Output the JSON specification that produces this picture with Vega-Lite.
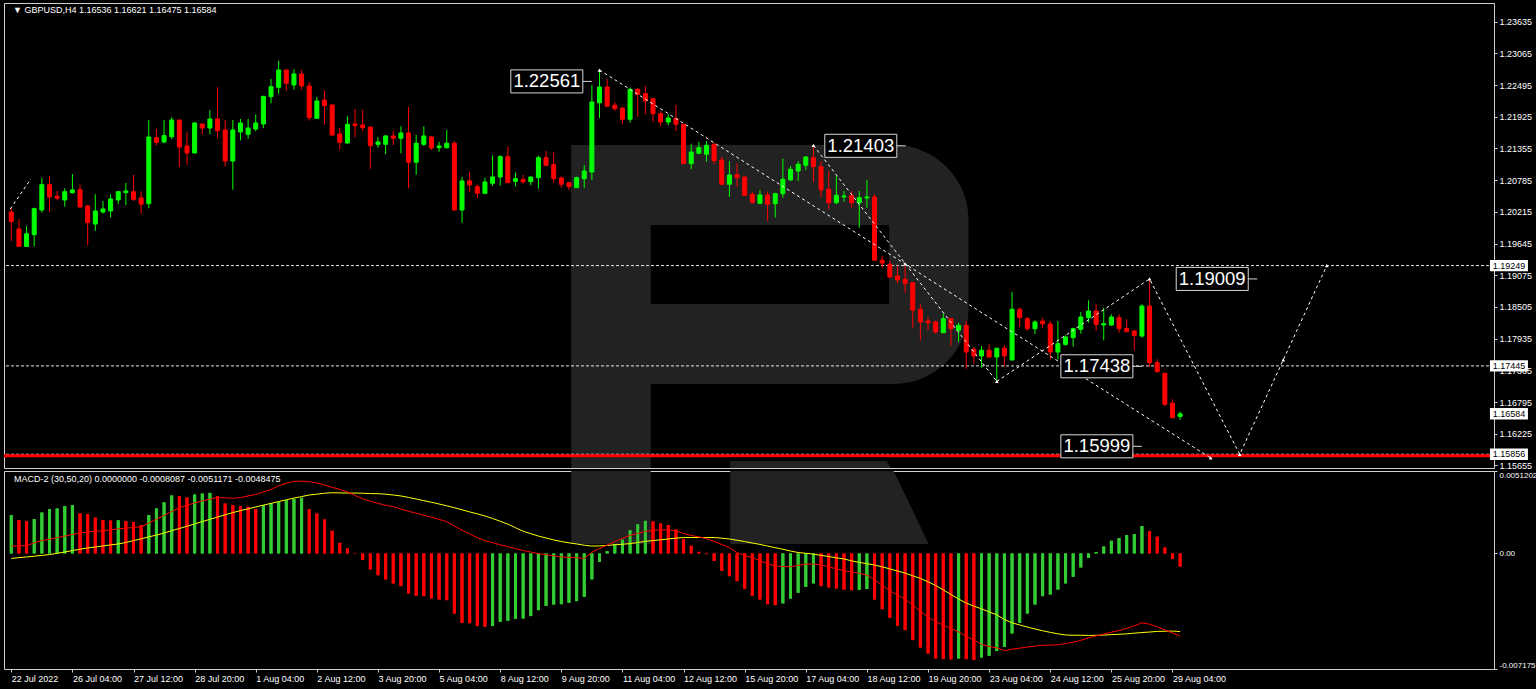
{
"$schema":"https://vega.github.io/schema/vega-lite/v6.json",
"background":"#000000",
"padding":{"left":2,"top":2,"right":6,"bottom":8},
"autosize":{"type":"pad"},
"spacing":3,
"bounds":"flush",
"config":{"view":{"stroke":"#d0d0d0","strokeWidth":1},"axis":{"labelFont":"Liberation Sans","labelFontSize":9,"labelColor":"#ffffff","tickColor":"#d0d0d0","domain":false,"grid":false,"labelOverlap":false,"labelBound":false}},
"datasets":{
"bars":[
{"i":0,"o":1.20213,"h":1.20285,"l":1.19692,"c":1.20039,"hg":0.00238,"up":1,"m":0.00046,"s":-0.00031},
{"i":1,"o":1.19908,"h":1.20082,"l":1.19585,"c":1.19593,"hg":0.00207,"up":0,"m":0.00047,"s":-0.00026},
{"i":2,"o":1.19593,"h":1.19961,"l":1.19585,"c":1.19821,"hg":0.00201,"up":0,"m":0.00049,"s":-0.00022},
{"i":3,"o":1.19805,"h":1.20291,"l":1.19593,"c":1.20273,"hg":0.00213,"up":1,"m":0.00066,"s":-0.00017},
{"i":4,"o":1.20249,"h":1.20825,"l":1.20201,"c":1.20704,"hg":0.00254,"up":1,"m":0.0008,"s":-0.00012},
{"i":5,"o":1.20704,"h":1.2086,"l":1.20219,"c":1.20483,"hg":0.00276,"up":1,"m":0.00088,"s":-0.00007},
{"i":6,"o":1.20496,"h":1.20591,"l":1.20429,"c":1.2046,"hg":0.00279,"up":1,"m":0.00098,"s":0.00001},
{"i":7,"o":1.20429,"h":1.20639,"l":1.20309,"c":1.20578,"hg":0.00294,"up":1,"m":0.00108,"s":0.00009},
{"i":8,"o":1.2056,"h":1.20896,"l":1.20542,"c":1.20609,"hg":0.003,"up":1,"m":0.00118,"s":0.00018},
{"i":9,"o":1.20614,"h":1.20704,"l":1.20291,"c":1.20303,"hg":0.00249,"up":0,"m":0.00127,"s":0.00026},
{"i":10,"o":1.20321,"h":1.20339,"l":1.19618,"c":1.20021,"hg":0.00244,"up":0,"m":0.00134,"s":0.00034},
{"i":11,"o":1.19997,"h":1.20531,"l":1.19872,"c":1.20231,"hg":0.00223,"up":0,"m":0.00138,"s":0.0004},
{"i":12,"o":1.20213,"h":1.20411,"l":1.20183,"c":1.20267,"hg":0.00207,"up":0,"m":0.00141,"s":0.00047},
{"i":13,"o":1.20231,"h":1.20531,"l":1.20114,"c":1.20447,"hg":0.00204,"up":0,"m":0.00147,"s":0.00053},
{"i":14,"o":1.20429,"h":1.20591,"l":1.20352,"c":1.20578,"hg":0.00206,"up":1,"m":0.00153,"s":0.00059},
{"i":15,"o":1.2056,"h":1.20735,"l":1.20339,"c":1.20591,"hg":0.00201,"up":0,"m":0.00157,"s":0.00068},
{"i":16,"o":1.20578,"h":1.20878,"l":1.20411,"c":1.20441,"hg":0.00196,"up":0,"m":0.00161,"s":0.0008},
{"i":17,"o":1.20465,"h":1.20585,"l":1.20183,"c":1.20352,"hg":0.00176,"up":0,"m":0.00166,"s":0.00091},
{"i":18,"o":1.20362,"h":1.21867,"l":1.20279,"c":1.21561,"hg":0.00238,"up":1,"m":0.00189,"s":0.00103},
{"i":19,"o":1.21549,"h":1.21706,"l":1.21412,"c":1.21466,"hg":0.00279,"up":1,"m":0.00212,"s":0.00114},
{"i":20,"o":1.21472,"h":1.21867,"l":1.21449,"c":1.21585,"hg":0.00317,"up":1,"m":0.00236,"s":0.00127},
{"i":21,"o":1.21567,"h":1.21916,"l":1.2152,"c":1.21867,"hg":0.0036,"up":1,"m":0.0026,"s":0.00141},
{"i":22,"o":1.21867,"h":1.2187,"l":1.21022,"c":1.21382,"hg":0.00357,"up":0,"m":0.00284,"s":0.00155},
{"i":23,"o":1.214,"h":1.21652,"l":1.21063,"c":1.21274,"hg":0.00347,"up":0,"m":0.00299,"s":0.00169},
{"i":24,"o":1.21274,"h":1.21831,"l":1.21265,"c":1.21813,"hg":0.00366,"up":1,"m":0.00314,"s":0.00183},
{"i":25,"o":1.21795,"h":1.218,"l":1.2161,"c":1.21723,"hg":0.00372,"up":1,"m":0.00326,"s":0.00198},
{"i":26,"o":1.21723,"h":1.22042,"l":1.2161,"c":1.21885,"hg":0.00376,"up":1,"m":0.00337,"s":0.00212},
{"i":27,"o":1.21885,"h":1.22455,"l":1.21538,"c":1.21675,"hg":0.00357,"up":0,"m":0.00348,"s":0.00226},
{"i":28,"o":1.21688,"h":1.21867,"l":1.21035,"c":1.2113,"hg":0.0031,"up":0,"m":0.00345,"s":0.0024},
{"i":29,"o":1.2113,"h":1.21867,"l":1.20614,"c":1.21688,"hg":0.003,"up":0,"m":0.00343,"s":0.00254},
{"i":30,"o":1.21652,"h":1.21885,"l":1.21502,"c":1.21813,"hg":0.00294,"up":0,"m":0.00347,"s":0.00266},
{"i":31,"o":1.2161,"h":1.21885,"l":1.21526,"c":1.21723,"hg":0.0029,"up":0,"m":0.00357,"s":0.00277},
{"i":32,"o":1.21706,"h":1.21969,"l":1.21664,"c":1.21813,"hg":0.00276,"up":0,"m":0.00366,"s":0.00289},
{"i":33,"o":1.21795,"h":1.223,"l":1.21723,"c":1.22293,"hg":0.003,"up":1,"m":0.00382,"s":0.003},
{"i":34,"o":1.22286,"h":1.22605,"l":1.22168,"c":1.22466,"hg":0.0031,"up":1,"m":0.00398,"s":0.00311},
{"i":35,"o":1.22455,"h":1.22933,"l":1.22335,"c":1.22766,"hg":0.00321,"up":1,"m":0.0042,"s":0.00322},
{"i":36,"o":1.22766,"h":1.2277,"l":1.22394,"c":1.22527,"hg":0.00331,"up":1,"m":0.00435,"s":0.00333},
{"i":37,"o":1.22497,"h":1.22779,"l":1.22412,"c":1.22695,"hg":0.00339,"up":1,"m":0.00448,"s":0.00344},
{"i":38,"o":1.22695,"h":1.22766,"l":1.22412,"c":1.22479,"hg":0.00346,"up":1,"m":0.00449,"s":0.00353},
{"i":39,"o":1.22479,"h":1.22551,"l":1.21855,"c":1.21909,"hg":0.00275,"up":0,"m":0.00446,"s":0.00363},
{"i":40,"o":1.21898,"h":1.22281,"l":1.2189,"c":1.22209,"hg":0.00248,"up":0,"m":0.00438,"s":0.00368},
{"i":41,"o":1.22227,"h":1.22401,"l":1.21783,"c":1.22124,"hg":0.00211,"up":0,"m":0.00425,"s":0.00374},
{"i":42,"o":1.22137,"h":1.2214,"l":1.2158,"c":1.21598,"hg":0.00141,"up":0,"m":0.0041,"s":0.00377},
{"i":43,"o":1.21616,"h":1.21723,"l":1.21333,"c":1.21466,"hg":0.00066,"up":0,"m":0.00398,"s":0.00376},
{"i":44,"o":1.21454,"h":1.21934,"l":1.21441,"c":1.2179,"hg":0.00031,"up":0,"m":0.00382,"s":0.00375},
{"i":45,"o":1.21795,"h":1.22065,"l":1.21558,"c":1.21765,"hg":-0.00002,"up":0,"m":0.0036,"s":0.00375},
{"i":46,"o":1.21777,"h":1.22053,"l":1.21664,"c":1.21729,"hg":-0.00041,"up":0,"m":0.00339,"s":0.00374},
{"i":47,"o":1.21741,"h":1.21745,"l":1.20991,"c":1.21405,"hg":-0.00099,"up":0,"m":0.00324,"s":0.00372},
{"i":48,"o":1.2143,"h":1.21562,"l":1.21369,"c":1.21472,"hg":-0.00135,"up":0,"m":0.00311,"s":0.00371},
{"i":49,"o":1.2143,"h":1.21598,"l":1.21251,"c":1.2158,"hg":-0.00161,"up":0,"m":0.00299,"s":0.00368},
{"i":50,"o":1.2158,"h":1.2167,"l":1.21418,"c":1.21538,"hg":-0.00186,"up":0,"m":0.00291,"s":0.00363},
{"i":51,"o":1.21538,"h":1.21754,"l":1.21269,"c":1.21634,"hg":-0.00203,"up":0,"m":0.00276,"s":0.00357},
{"i":52,"o":1.21634,"h":1.22101,"l":1.20639,"c":1.21106,"hg":-0.00248,"up":0,"m":0.00262,"s":0.00348},
{"i":53,"o":1.21107,"h":1.21598,"l":1.20884,"c":1.21449,"hg":-0.00263,"up":0,"m":0.0025,"s":0.00338},
{"i":54,"o":1.2143,"h":1.21754,"l":1.214,"c":1.2158,"hg":-0.00265,"up":0,"m":0.00237,"s":0.00328},
{"i":55,"o":1.21562,"h":1.2158,"l":1.21328,"c":1.21364,"hg":-0.00279,"up":0,"m":0.00225,"s":0.00318},
{"i":56,"o":1.2137,"h":1.21477,"l":1.21297,"c":1.214,"hg":-0.00286,"up":0,"m":0.00212,"s":0.00307},
{"i":57,"o":1.2137,"h":1.21688,"l":1.21351,"c":1.21449,"hg":-0.0029,"up":0,"m":0.00197,"s":0.00296},
{"i":58,"o":1.21449,"h":1.2149,"l":1.2024,"c":1.20249,"hg":-0.00373,"up":0,"m":0.0017,"s":0.00284},
{"i":59,"o":1.20249,"h":1.20843,"l":1.20021,"c":1.20771,"hg":-0.00431,"up":0,"m":0.00144,"s":0.00271},
{"i":60,"o":1.20771,"h":1.20932,"l":1.20573,"c":1.20699,"hg":-0.00433,"up":0,"m":0.00121,"s":0.00258},
{"i":61,"o":1.20668,"h":1.20711,"l":1.20459,"c":1.20549,"hg":-0.00451,"up":0,"m":0.00098,"s":0.00246},
{"i":62,"o":1.20549,"h":1.2083,"l":1.20531,"c":1.20753,"hg":-0.00455,"up":0,"m":0.00079,"s":0.00233},
{"i":63,"o":1.20729,"h":1.21233,"l":1.20681,"c":1.20842,"hg":-0.00451,"up":1,"m":0.00067,"s":0.00217},
{"i":64,"o":1.20842,"h":1.21233,"l":1.20686,"c":1.21208,"hg":-0.00424,"up":1,"m":0.00054,"s":0.002},
{"i":65,"o":1.21208,"h":1.21387,"l":1.20735,"c":1.2074,"hg":-0.00418,"up":1,"m":0.00042,"s":0.00182},
{"i":66,"o":1.20765,"h":1.2092,"l":1.20668,"c":1.20812,"hg":-0.00406,"up":1,"m":0.0003,"s":0.0016},
{"i":67,"o":1.20794,"h":1.20878,"l":1.20722,"c":1.20758,"hg":-0.00404,"up":1,"m":0.00018,"s":0.00138},
{"i":68,"o":1.20758,"h":1.20848,"l":1.20693,"c":1.20842,"hg":-0.00389,"up":1,"m":0.00009,"s":0.00123},
{"i":69,"o":1.2083,"h":1.21225,"l":1.20632,"c":1.2119,"hg":-0.00352,"up":1,"m":-0.00001,"s":0.00108},
{"i":70,"o":1.2119,"h":1.2131,"l":1.2104,"c":1.21053,"hg":-0.00325,"up":1,"m":-0.00008,"s":0.00096},
{"i":71,"o":1.21064,"h":1.21287,"l":1.2074,"c":1.20812,"hg":-0.00317,"up":1,"m":-0.00015,"s":0.00084},
{"i":72,"o":1.20825,"h":1.20855,"l":1.2065,"c":1.20711,"hg":-0.00315,"up":1,"m":-0.00022,"s":0.00074},
{"i":73,"o":1.2074,"h":1.20745,"l":1.20609,"c":1.20668,"hg":-0.00306,"up":1,"m":-0.00024,"s":0.00066},
{"i":74,"o":1.2065,"h":1.20848,"l":1.20645,"c":1.2083,"hg":-0.00296,"up":1,"m":-0.00027,"s":0.00059},
{"i":75,"o":1.20812,"h":1.21058,"l":1.2065,"c":1.2095,"hg":-0.00269,"up":1,"m":-0.00031,"s":0.00051},
{"i":76,"o":1.20932,"h":1.22497,"l":1.20789,"c":1.22191,"hg":-0.00161,"up":1,"m":0.00007,"s":0.00046},
{"i":77,"o":1.22178,"h":1.22766,"l":1.21898,"c":1.22461,"hg":-0.00052,"up":1,"m":0.00031,"s":0.00047},
{"i":78,"o":1.22461,"h":1.22599,"l":1.2211,"c":1.22114,"hg":0.00014,"up":1,"m":0.00052,"s":0.0005},
{"i":79,"o":1.22132,"h":1.22191,"l":1.22029,"c":1.22071,"hg":0.00058,"up":1,"m":0.00074,"s":0.00054},
{"i":80,"o":1.22083,"h":1.22087,"l":1.21795,"c":1.2188,"hg":0.00087,"up":1,"m":0.00094,"s":0.00057},
{"i":81,"o":1.2188,"h":1.22448,"l":1.21819,"c":1.22419,"hg":0.00145,"up":1,"m":0.00112,"s":0.00061},
{"i":82,"o":1.22419,"h":1.22448,"l":1.21921,"c":1.22329,"hg":0.00182,"up":1,"m":0.00124,"s":0.00068},
{"i":83,"o":1.2234,"h":1.22479,"l":1.2197,"c":1.22209,"hg":0.00203,"up":1,"m":0.00137,"s":0.00075},
{"i":84,"o":1.2225,"h":1.22255,"l":1.21837,"c":1.21981,"hg":0.00199,"up":0,"m":0.00143,"s":0.0008},
{"i":85,"o":1.21981,"h":1.22029,"l":1.21759,"c":1.21831,"hg":0.00186,"up":0,"m":0.00147,"s":0.00085},
{"i":86,"o":1.21831,"h":1.2197,"l":1.21772,"c":1.21903,"hg":0.00176,"up":0,"m":0.00146,"s":0.0009},
{"i":87,"o":1.21893,"h":1.22137,"l":1.2167,"c":1.2179,"hg":0.00149,"up":0,"m":0.00141,"s":0.00095},
{"i":88,"o":1.2179,"h":1.21795,"l":1.2107,"c":1.21082,"hg":0.00089,"up":0,"m":0.00124,"s":0.00099},
{"i":89,"o":1.21082,"h":1.21441,"l":1.20981,"c":1.21292,"hg":0.00048,"up":0,"m":0.00112,"s":0.00099},
{"i":90,"o":1.21269,"h":1.21472,"l":1.21251,"c":1.21369,"hg":0.0001,"up":0,"m":0.00103,"s":0.00099},
{"i":91,"o":1.21251,"h":1.2149,"l":1.21118,"c":1.21412,"hg":-0.00004,"up":0,"m":0.00092,"s":0.00099},
{"i":92,"o":1.2143,"h":1.21459,"l":1.21071,"c":1.21136,"hg":-0.00046,"up":0,"m":0.00075,"s":0.00099},
{"i":93,"o":1.21148,"h":1.21208,"l":1.20693,"c":1.20711,"hg":-0.00108,"up":0,"m":0.00056,"s":0.00095},
{"i":94,"o":1.20711,"h":1.2113,"l":1.20483,"c":1.20878,"hg":-0.00141,"up":0,"m":0.00036,"s":0.0009},
{"i":95,"o":1.20884,"h":1.21089,"l":1.20668,"c":1.2083,"hg":-0.00172,"up":0,"m":0.00006,"s":0.00082},
{"i":96,"o":1.20842,"h":1.20848,"l":1.20501,"c":1.20513,"hg":-0.00219,"up":0,"m":-0.00013,"s":0.00074},
{"i":97,"o":1.20531,"h":1.20573,"l":1.20369,"c":1.2038,"hg":-0.00263,"up":0,"m":-0.00025,"s":0.00065},
{"i":98,"o":1.20369,"h":1.20603,"l":1.20352,"c":1.20519,"hg":-0.00286,"up":0,"m":-0.00045,"s":0.00056},
{"i":99,"o":1.20519,"h":1.20578,"l":1.20051,"c":1.20352,"hg":-0.00315,"up":0,"m":-0.00064,"s":0.00046},
{"i":100,"o":1.20362,"h":1.2056,"l":1.20114,"c":1.20542,"hg":-0.00321,"up":0,"m":-0.00078,"s":0.00036},
{"i":101,"o":1.20542,"h":1.21172,"l":1.20471,"c":1.20801,"hg":-0.0031,"up":1,"m":-0.00081,"s":0.00026},
{"i":102,"o":1.20789,"h":1.2104,"l":1.20771,"c":1.20981,"hg":-0.0028,"up":1,"m":-0.00083,"s":0.00015},
{"i":103,"o":1.2095,"h":1.2113,"l":1.20771,"c":1.21071,"hg":-0.00244,"up":1,"m":-0.00074,"s":0.00006},
{"i":104,"o":1.21053,"h":1.2122,"l":1.20968,"c":1.21202,"hg":-0.00207,"up":1,"m":-0.00066,"s":0.00001},
{"i":105,"o":1.2119,"h":1.2141,"l":1.20753,"c":1.21028,"hg":-0.00186,"up":1,"m":-0.00066,"s":-0.00004},
{"i":106,"o":1.21028,"h":1.2113,"l":1.20471,"c":1.20609,"hg":-0.00203,"up":0,"m":-0.00071,"s":-0.00012},
{"i":107,"o":1.20621,"h":1.2095,"l":1.20261,"c":1.2038,"hg":-0.00211,"up":0,"m":-0.00083,"s":-0.00019},
{"i":108,"o":1.2038,"h":1.2086,"l":1.20352,"c":1.20513,"hg":-0.00217,"up":0,"m":-0.00095,"s":-0.00027},
{"i":109,"o":1.20483,"h":1.20591,"l":1.20398,"c":1.20501,"hg":-0.00224,"up":0,"m":-0.00107,"s":-0.00034},
{"i":110,"o":1.20513,"h":1.20591,"l":1.20291,"c":1.2038,"hg":-0.00228,"up":0,"m":-0.00115,"s":-0.00046},
{"i":111,"o":1.2038,"h":1.20591,"l":1.19931,"c":1.20471,"hg":-0.00226,"up":1,"m":-0.00123,"s":-0.00056},
{"i":112,"o":1.20465,"h":1.20789,"l":1.20291,"c":1.20483,"hg":-0.00221,"up":1,"m":-0.00134,"s":-0.00063},
{"i":113,"o":1.20483,"h":1.20531,"l":1.1934,"c":1.19345,"hg":-0.00286,"up":0,"m":-0.00164,"s":-0.00072},
{"i":114,"o":1.19344,"h":1.19421,"l":1.19211,"c":1.19295,"hg":-0.00346,"up":0,"m":-0.00197,"s":-0.00083},
{"i":115,"o":1.19272,"h":1.19344,"l":1.19031,"c":1.19043,"hg":-0.00399,"up":0,"m":-0.00232,"s":-0.00096},
{"i":116,"o":1.19061,"h":1.19254,"l":1.18923,"c":1.1899,"hg":-0.00449,"up":0,"m":-0.00258,"s":-0.00109},
{"i":117,"o":1.19002,"h":1.19259,"l":1.18761,"c":1.1893,"hg":-0.00476,"up":0,"m":-0.00284,"s":-0.00122},
{"i":118,"o":1.18941,"h":1.18945,"l":1.18132,"c":1.1845,"hg":-0.00538,"up":0,"m":-0.0032,"s":-0.00139},
{"i":119,"o":1.18463,"h":1.18553,"l":1.17905,"c":1.18234,"hg":-0.00584,"up":0,"m":-0.00359,"s":-0.00155},
{"i":120,"o":1.18252,"h":1.18324,"l":1.18085,"c":1.18222,"hg":-0.00621,"up":0,"m":-0.00396,"s":-0.00176},
{"i":121,"o":1.18234,"h":1.18265,"l":1.18024,"c":1.18055,"hg":-0.00652,"up":0,"m":-0.00423,"s":-0.00199},
{"i":122,"o":1.18042,"h":1.18384,"l":1.18035,"c":1.18294,"hg":-0.00656,"up":0,"m":-0.00445,"s":-0.00226},
{"i":123,"o":1.18294,"h":1.18312,"l":1.17803,"c":1.18114,"hg":-0.00658,"up":0,"m":-0.00466,"s":-0.00255},
{"i":124,"o":1.18085,"h":1.18222,"l":1.17875,"c":1.18175,"hg":-0.00652,"up":1,"m":-0.00486,"s":-0.00283},
{"i":125,"o":1.18175,"h":1.18252,"l":1.17395,"c":1.17695,"hg":-0.00656,"up":0,"m":-0.00516,"s":-0.00308},
{"i":126,"o":1.17743,"h":1.17785,"l":1.17485,"c":1.17623,"hg":-0.00662,"up":0,"m":-0.00538,"s":-0.00327},
{"i":127,"o":1.17623,"h":1.17803,"l":1.17413,"c":1.17726,"hg":-0.00646,"up":1,"m":-0.00564,"s":-0.00344},
{"i":128,"o":1.17726,"h":1.17833,"l":1.17593,"c":1.17605,"hg":-0.00635,"up":1,"m":-0.00578,"s":-0.00363},
{"i":129,"o":1.17605,"h":1.17772,"l":1.17165,"c":1.17762,"hg":-0.00606,"up":1,"m":-0.00586,"s":-0.00381},
{"i":130,"o":1.17762,"h":1.17815,"l":1.17443,"c":1.17623,"hg":-0.0058,"up":1,"m":-0.00604,"s":-0.0041},
{"i":131,"o":1.17551,"h":1.18774,"l":1.17545,"c":1.18463,"hg":-0.00497,"up":1,"m":-0.00594,"s":-0.00431},
{"i":132,"o":1.18463,"h":1.18492,"l":1.18145,"c":1.18312,"hg":-0.00431,"up":1,"m":-0.00588,"s":-0.00444},
{"i":133,"o":1.18294,"h":1.18324,"l":1.18078,"c":1.18114,"hg":-0.00373,"up":1,"m":-0.00581,"s":-0.00457},
{"i":134,"o":1.18114,"h":1.18265,"l":1.18018,"c":1.18234,"hg":-0.00317,"up":1,"m":-0.00575,"s":-0.00469},
{"i":135,"o":1.18252,"h":1.18312,"l":1.18132,"c":1.18204,"hg":-0.00265,"up":1,"m":-0.0057,"s":-0.0048},
{"i":136,"o":1.18198,"h":1.18252,"l":1.17564,"c":1.17695,"hg":-0.00255,"up":1,"m":-0.00569,"s":-0.0049},
{"i":137,"o":1.17695,"h":1.18252,"l":1.17564,"c":1.17844,"hg":-0.00224,"up":1,"m":-0.00567,"s":-0.00499},
{"i":138,"o":1.17833,"h":1.17995,"l":1.17803,"c":1.17965,"hg":-0.00186,"up":1,"m":-0.0056,"s":-0.00506},
{"i":139,"o":1.17952,"h":1.18132,"l":1.17792,"c":1.18114,"hg":-0.00145,"up":1,"m":-0.00551,"s":-0.00508},
{"i":140,"o":1.18102,"h":1.18414,"l":1.18024,"c":1.18324,"hg":-0.00087,"up":1,"m":-0.0054,"s":-0.00508},
{"i":141,"o":1.18312,"h":1.18625,"l":1.18222,"c":1.18432,"hg":-0.00027,"up":1,"m":-0.00524,"s":-0.00509},
{"i":142,"o":1.18432,"h":1.18553,"l":1.18073,"c":1.18193,"hg":0.00008,"up":1,"m":-0.00512,"s":-0.00508},
{"i":143,"o":1.1818,"h":1.18492,"l":1.17905,"c":1.18204,"hg":0.00043,"up":1,"m":-0.005,"s":-0.00507},
{"i":144,"o":1.1818,"h":1.18373,"l":1.18162,"c":1.18324,"hg":0.00079,"up":1,"m":-0.00489,"s":-0.00504},
{"i":145,"o":1.18312,"h":1.18373,"l":1.18042,"c":1.18114,"hg":0.00095,"up":1,"m":-0.00479,"s":-0.00502},
{"i":146,"o":1.1812,"h":1.18283,"l":1.18055,"c":1.1806,"hg":0.00114,"up":1,"m":-0.00465,"s":-0.00499},
{"i":147,"o":1.18073,"h":1.18085,"l":1.17726,"c":1.17995,"hg":0.0012,"up":1,"m":-0.0045,"s":-0.00495},
{"i":148,"o":1.17983,"h":1.18553,"l":1.17952,"c":1.18522,"hg":0.0017,"up":1,"m":-0.00431,"s":-0.00491},
{"i":149,"o":1.18522,"h":1.19009,"l":1.17425,"c":1.17503,"hg":0.00139,"up":0,"m":-0.00439,"s":-0.00488},
{"i":150,"o":1.17503,"h":1.17564,"l":1.17323,"c":1.17341,"hg":0.00104,"up":0,"m":-0.00455,"s":-0.00484},
{"i":151,"o":1.17312,"h":1.1732,"l":1.16724,"c":1.16755,"hg":0.00037,"up":0,"m":-0.00475,"s":-0.00483},
{"i":152,"o":1.16773,"h":1.16845,"l":1.16503,"c":1.16514,"hg":-0.00035,"up":0,"m":-0.00494,"s":-0.00482},
{"i":153,"o":1.16536,"h":1.16621,"l":1.16475,"c":1.16584,"hg":-0.00081,"up":0,"m":-0.00512,"s":-0.00485}
],
"levels":[{"p":1.19249},{"p":1.17445},{"p":1.15856}],
"redLevel":[{"p":1.15828}],
"tags":[{"p":1.19249},{"p":1.17445},{"p":1.16584},{"p":1.15856}],
"waves":[
{"seg":"L","ord":0,"i":-0.13,"p":1.20267},{"seg":"L","ord":1,"i":2.56,"p":1.20806},
{"seg":"A","ord":0,"i":77,"p":1.22766},{"seg":"A","ord":1,"i":157,"p":1.15789},
{"seg":"B","ord":0,"i":105,"p":1.2141},{"seg":"B","ord":1,"i":129,"p":1.17165},
{"seg":"Z","ord":0,"i":129,"p":1.17165},{"seg":"Z","ord":1,"i":149,"p":1.19009},{"seg":"Z","ord":2,"i":160.8,"p":1.15856},{"seg":"Z","ord":3,"i":172.2,"p":1.19249}
],
"nodes":[{"i":77,"p":1.22766},{"i":105,"p":1.2141},{"i":117,"p":1.19278},{"i":129,"p":1.17165},{"i":149,"p":1.19009},{"i":157,"p":1.15789},{"i":160.8,"p":1.15856},{"i":166.5,"p":1.17553},{"i":172.2,"p":1.19249}],
"labels":[{"i":70.1,"p":1.22561},{"i":111.2,"p":1.21403},{"i":157.2,"p":1.19009},{"i":142.1,"p":1.17438},{"i":142.1,"p":1.15999}],
"heads":[{"name":"price","text":"▼ GBPUSD,H4 1.16536 1.16621 1.16475 1.16584"},{"name":"macd","text":"MACD-2 (30,50,20) 0.0000000 -0.0008087 -0.0051171 -0.0048475"}],
"wmBowl":[{"x1":73.29,"x2":125.3,"y1":1.21418,"y2":1.1712}],
"wmHole":[{"x1":83.7,"x2":114.9,"y1":1.19979,"y2":1.18558}],
"wmStem":[{"x1":73.29,"x2":83.7,"y1":1.1712,"y2":1.15609}],
"wmLeg":[{"v":1.15735,"l":94.1,"r":114.6},{"v":1.15609,"l":94.1,"r":115.1}],
"wmStem2":[{"x1":73.29,"x2":83.7,"y1":0.0051202,"y2":0.000587}],
"wmLeg2":[{"v":0.0051202,"l":94.1,"r":115.5},{"v":0.000587,"l":94.1,"r":120.1}]
},
"vconcat":[
{
"width":1490,"height":465,
"layer":[
{"data":{"name":"bars"},"mark":{"type":"rule","strokeWidth":1,"opacity":0},
"encoding":{"x":{"field":"i","type":"quantitative","scale":{"domain":[-0.299,193.43],"nice":false,"zero":false},"axis":null},
"y":{"field":"c","type":"quantitative","scale":{"domain":[1.15609,1.23971],"nice":false,"zero":false},
"axis":{"orient":"right","title":null,"values":[1.23635,1.23065,1.22495,1.21925,1.21355,1.20785,1.20215,1.19645,1.19075,1.18505,1.17935,1.17365,1.16795,1.16225,1.15655],"tickCount":40,"format":".5f","tickSize":3,"labelPadding":2,"labelOverlap":false,"labelFlush":false,"labelBaseline":"middle"}}}},
{"data":{"name":"wmBowl"},"mark":{"type":"rect","color":"#222222","cornerRadiusTopRight":75,"cornerRadiusBottomRight":75},
"encoding":{"x":{"field":"x1","type":"quantitative","axis":null},"x2":{"field":"x2"},"y":{"field":"y1","type":"quantitative"},"y2":{"field":"y2"}}},
{"data":{"name":"wmHole"},"mark":{"type":"rect","color":"#000000"},
"encoding":{"x":{"field":"x1","type":"quantitative","axis":null},"x2":{"field":"x2"},"y":{"field":"y1","type":"quantitative"},"y2":{"field":"y2"}}},
{"data":{"name":"wmStem"},"mark":{"type":"rect","color":"#222222"},
"encoding":{"x":{"field":"x1","type":"quantitative","axis":null},"x2":{"field":"x2"},"y":{"field":"y1","type":"quantitative"},"y2":{"field":"y2"}}},
{"data":{"name":"wmLeg"},"mark":{"type":"area","orient":"horizontal","color":"#222222"},
"encoding":{"y":{"field":"v","type":"quantitative"},"x":{"field":"l","type":"quantitative","axis":null},"x2":{"field":"r"}}},
{"data":{"name":"levels"},"mark":{"type":"rule","color":"#e6e6e6","strokeWidth":1,"strokeDash":[3,2]},
"encoding":{"y":{"field":"p","type":"quantitative"}}},
{"data":{"name":"redLevel"},"mark":{"type":"rule","color":"#ff0000","strokeWidth":3},
"encoding":{"y":{"field":"p","type":"quantitative"}}},
{"data":{"name":"bars"},"mark":{"type":"rule","strokeWidth":1},
"encoding":{"x":{"field":"i","type":"quantitative","axis":null},"y":{"field":"l","type":"quantitative"},"y2":{"field":"h"},
"color":{"condition":{"test":"datum.c >= datum.o","value":"#00ff00"},"value":"#ff0000"}}},
{"data":{"name":"bars"},"mark":{"type":"bar","width":4,"strokeWidth":1},
"encoding":{"x":{"field":"i","type":"quantitative","axis":null},"y":{"field":"o","type":"quantitative"},"y2":{"field":"c"},
"fill":{"condition":{"test":"datum.c >= datum.o","value":"#00ff00"},"value":"#ff0000"},
"stroke":{"condition":{"test":"datum.c >= datum.o","value":"#00ff00"},"value":"#ff0000"}}},
{"data":{"name":"waves"},"mark":{"type":"line","color":"#ffffff","strokeWidth":1,"strokeDash":[3,3]},
"encoding":{"x":{"field":"i","type":"quantitative","axis":null},"y":{"field":"p","type":"quantitative"},"detail":{"field":"seg"},"order":{"field":"ord","type":"quantitative"}}},
{"data":{"name":"nodes"},"mark":{"type":"point","shape":"triangle-up","size":14,"filled":true,"color":"#ffffff","opacity":1},
"encoding":{"x":{"field":"i","type":"quantitative","axis":null},"y":{"field":"p","type":"quantitative"}}},
{"data":{"name":"labels"},"mark":{"type":"point","shape":"M-1,-0.32L1,-0.32L1,0.32L-1,0.32ZM1,0L1.25,0","size":5184,"filled":true,"fill":"#000000","stroke":"#d8d8d8","strokeWidth":1,"opacity":1},
"encoding":{"x":{"field":"i","type":"quantitative","axis":null},"y":{"field":"p","type":"quantitative"}}},
{"data":{"name":"labels"},"mark":{"type":"text","font":"Liberation Sans","fontSize":18.5,"color":"#ffffff","align":"center","baseline":"middle"},
"encoding":{"x":{"field":"i","type":"quantitative","axis":null},"y":{"field":"p","type":"quantitative"},"text":{"field":"p","type":"quantitative","format":".5f"}}},
{"data":{"name":"tags"},"mark":{"type":"point","shape":"M-1,-0.26L1,-0.26L1,0.26L-1,0.26Z","size":1296,"filled":true,"fill":"#ffffff","stroke":"#ffffff","opacity":1},
"encoding":{"x":{"datum":196.04,"type":"quantitative","axis":null},"y":{"field":"p","type":"quantitative"}}},
{"data":{"name":"tags"},"mark":{"type":"text","font":"Liberation Sans","fontSize":9,"color":"#000000","align":"center","baseline":"middle"},
"encoding":{"x":{"datum":196.04,"type":"quantitative","axis":null},"y":{"field":"p","type":"quantitative"},"text":{"field":"p","type":"quantitative","format":".5f"}}},
{"data":{"name":"heads"},"transform":[{"filter":"datum.name == 'price'"}],"mark":{"type":"text","font":"Liberation Sans","fontSize":9,"color":"#ffffff","align":"left","baseline":"top","dx":4,"dy":3},
"encoding":{"x":{"datum":-0.299,"type":"quantitative","axis":null},"y":{"datum":1.23971,"type":"quantitative"},"text":{"field":"text"}}}
]
},
{
"width":1490,"height":198,
"layer":[
{"data":{"name":"bars"},"mark":{"type":"bar","width":3},
"encoding":{"x":{"field":"i","type":"quantitative","scale":{"domain":[-0.299,193.43],"nice":false,"zero":false},
"axis":{"orient":"bottom","title":null,"values":[0,8,16,24,32,40,48,56,64,72,80,88,96,104,112,120,128,136,144,152],"tickCount":60,
"labelExpr":"['22 Jul 2022','26 Jul 04:00','27 Jul 12:00','28 Jul 20:00','1 Aug 04:00','2 Aug 12:00','3 Aug 20:00','5 Aug 04:00','8 Aug 12:00','9 Aug 20:00','11 Aug 04:00','12 Aug 12:00','15 Aug 20:00','17 Aug 04:00','18 Aug 12:00','19 Aug 20:00','23 Aug 04:00','24 Aug 12:00','25 Aug 20:00','29 Aug 04:00'][round(datum.value/8)]",
"labelAlign":"left","labelBaseline":"top","tickSize":3,"labelPadding":2,"labelOverlap":false,"labelFlush":false}},
"y":{"field":"hg","type":"quantitative","scale":{"domain":[-0.007175,0.0051202],"nice":false,"zero":false},
"axis":{"orient":"right","title":null,"values":[0.0051202,0,-0.007175],"tickCount":10,"labelExpr":"datum.value > 0.001 ? '0.0051202' : (datum.value < -0.001 ? '-0.007175' : '0.00')","labelFontSize":8,"tickSize":3,"labelPadding":2,"labelOverlap":false,"labelFlush":true}},
"y2":{"datum":0},
"color":{"condition":{"test":"datum.up == 1","value":"#32cd32"},"value":"#ff0000"}}},
{"data":{"name":"wmStem2"},"mark":{"type":"rect","color":"#222222"},
"encoding":{"x":{"field":"x1","type":"quantitative"},"x2":{"field":"x2"},"y":{"field":"y1","type":"quantitative"},"y2":{"field":"y2"}}},
{"data":{"name":"wmLeg2"},"mark":{"type":"area","orient":"horizontal","color":"#222222"},
"encoding":{"y":{"field":"v","type":"quantitative"},"x":{"field":"l","type":"quantitative"},"x2":{"field":"r"}}},
{"data":{"name":"bars"},"mark":{"type":"bar","width":3},
"encoding":{"x":{"field":"i","type":"quantitative"},"y":{"field":"hg","type":"quantitative"},"y2":{"datum":0},
"color":{"condition":{"test":"datum.up == 1","value":"#32cd32"},"value":"#ff0000"}}},
{"data":{"name":"bars"},"mark":{"type":"line","color":"#ffff00","strokeWidth":1},
"encoding":{"x":{"field":"i","type":"quantitative"},"y":{"field":"s","type":"quantitative"}}},
{"data":{"name":"bars"},"mark":{"type":"line","color":"#ff0000","strokeWidth":1},
"encoding":{"x":{"field":"i","type":"quantitative"},"y":{"field":"m","type":"quantitative"}}},
{"data":{"name":"heads"},"transform":[{"filter":"datum.name == 'macd'"}],"mark":{"type":"text","font":"Liberation Sans","fontSize":9,"color":"#ffffff","align":"left","baseline":"top","dx":5,"dy":4},
"encoding":{"x":{"datum":-0.299,"type":"quantitative"},"y":{"datum":0.0051202,"type":"quantitative"},"text":{"field":"text"}}}
]
}
]
}
